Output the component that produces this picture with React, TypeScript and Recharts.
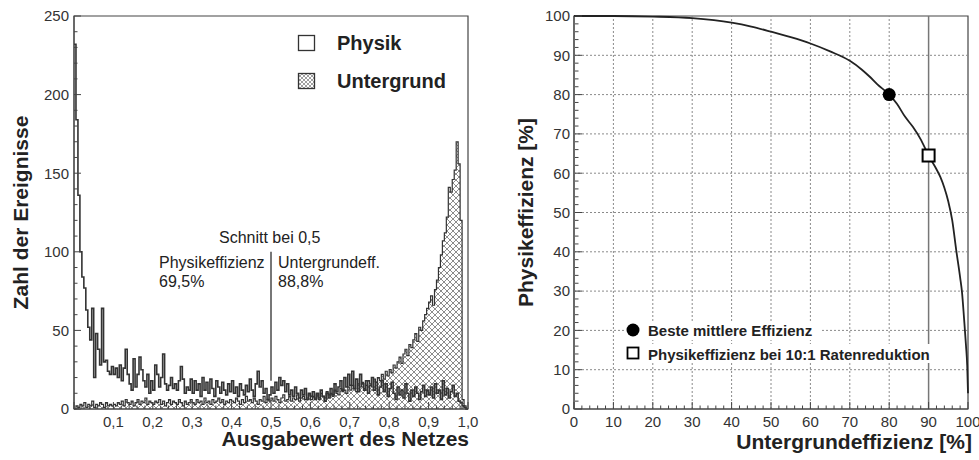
import React from 'react';
import {
  ComposedChart,
  Area,
  Line,
  Scatter,
  XAxis,
  YAxis,
  ReferenceLine,
  ReferenceArea,
} from 'recharts';

const FONT = '"Liberation Sans", Arial, Helvetica, sans-serif';
const INK = '#222';
const AXIS = '#444';

// Network output histograms, 200 bins of width 0.005 from 0 to 1
const BIN_WIDTH = 0.005;

const physikCounts = [
  232, 184, 136, 100, 84, 77, 63, 52, 44, 64, 20, 48, 38, 28, 64, 30, 31, 24, 22, 27,
  22, 26, 20, 28, 18, 26, 38, 22, 16, 12, 32, 14, 22, 33, 25, 18, 14, 22, 10, 18,
  12, 28, 22, 14, 20, 35, 16, 12, 15, 20, 13, 16, 12, 18, 27, 19, 10, 14, 12, 19,
  10, 18, 12, 16, 8, 20, 12, 17, 10, 19, 13, 8, 18, 14, 10, 17, 12, 9, 16, 11,
  18, 10, 14, 8, 16, 12, 9, 15, 11, 19, 12, 8, 16, 24, 14, 18, 10, 13, 6, 9,
  14, 10, 17, 12, 20, 15, 18, 11, 16, 9, 12, 8, 14, 10, 7, 12, 9, 13, 6, 10,
  8, 11, 6, 10, 7, 12, 8, 5, 10, 7, 13, 9, 16, 11, 14, 18, 12, 20, 14, 22,
  15, 24, 13, 19, 11, 22, 16, 12, 18, 10, 15, 20, 12, 17, 9, 14, 18, 11, 16, 8,
  13, 17, 10, 6, 14, 9, 12, 7, 16, 10, 5, 12, 8, 14, 10, 6, 11, 15, 8, 12,
  9, 14, 7, 16, 10, 12, 6, 18, 9, 13, 7, 11, 15, 8, 10, 5, 4, 2, 1, 0,
];

const untergrundCounts = [
  0, 2, 1, 3, 2, 4, 1, 3, 2, 5, 1, 3, 2, 4, 3, 1, 4, 2, 3, 2,
  3, 2, 4, 3, 5, 2, 6, 4, 3, 5, 2, 4, 6, 3, 5, 4, 7, 3, 5, 4,
  3, 5, 4, 6, 3, 5, 2, 4, 6, 3, 5, 4, 3, 6, 4, 2, 5, 3, 4, 6,
  4, 3, 6, 4, 5, 3, 7, 4, 5, 3, 6, 4, 5, 7, 4, 6, 3, 5, 4, 6,
  5, 4, 7, 5, 3, 6, 4, 8, 5, 6, 4, 7, 5, 3, 6, 5, 8, 4, 6, 5,
  7, 5, 8, 6, 4, 7, 9, 5, 6, 8, 5, 7, 6, 9, 5, 7, 8, 6, 7, 9,
  6, 8, 7, 9, 6, 10, 8, 7, 11, 9, 10, 8, 12, 10, 9, 13, 11, 12, 10, 14,
  12, 15, 13, 11, 16, 14, 17, 13, 15, 18, 16, 14, 19, 17, 20, 18, 22, 19, 24, 21,
  25, 23, 28, 26, 30, 33, 29, 35, 38, 34, 41, 39, 44, 48, 43, 52, 50, 56, 60, 64,
  68, 72, 66, 76, 82, 90, 98, 107, 112, 122, 141, 138, 146, 152, 170, 156, 120, 6, 2, 0,
];

const histXLabels = [0.1, 0.2, 0.3, 0.4, 0.5, 0.6, 0.7, 0.8, 0.9, 1.0];
const histYLabels = [0, 50, 100, 150, 200, 250];
const CUT_VALUE = 0.5;

// Efficiency curve: background efficiency [%] vs physics efficiency [%]
const untergrundEff = [
  0, 10, 20, 30, 40, 45, 50, 55, 60, 65, 70, 73, 75, 77, 80, 82, 84, 86, 88, 90,
  92, 93, 94, 95, 96, 97, 98, 98.5, 99, 99.5, 99.8, 100,
];
const physikEff = [
  100, 100, 99.85, 99.45, 98.3, 97.3, 96, 94.6, 93, 91, 88.6, 86.4, 84.6, 82.6, 80, 77.6,
  74.4, 71.8, 68.6, 64.5, 61, 59, 56.3, 52.8, 48, 40.5, 33.5, 29.5, 23, 16, 11, 4,
];
const bestPoint = [{ x: 80, y: 80 }];
const reductionPoint = [{ x: 90, y: 64.5 }];
const effLabels = [0, 10, 20, 30, 40, 50, 60, 70, 80, 90, 100];
const effGridX = [10, 20, 30, 40, 50, 60, 70, 80];
const effGridY = [10, 20, 30, 40, 50, 60, 70, 80, 90];
const REDUCTION_EFF = 90;

const steps = (from: number, to: number, step: number) =>
  Array.from({ length: Math.round((to - from) / step) + 1 }, (_, i) => +(from + i * step).toFixed(3));
const hasValue = (list: number[], v: number) => list.some((t) => Math.abs(t - v) < 1e-6);

const histData = physikCounts.map((p, i) => ({
  x: +(i * BIN_WIDTH).toFixed(3),
  physik: p,
  untergrund: untergrundCounts[i],
}));
histData.push({ x: 1, physik: 0, untergrund: 0 });

const effData = untergrundEff.map((x, i) => ({ x, y: physikEff[i] }));

const comma = (v: number) => v.toFixed(1).replace('.', ',');
const plain = (v: number) => String(v);

const Y_GAP = 5;
const X_GAP = 7;

// Axis ticks point into the plot; only the major positions carry a label
const makeYTick = (labels: number[], fmt: (v: number) => string) => (props: any) => {
  const { x, y, payload } = props;
  const v = payload.value;
  const axisX = x + Y_GAP;
  const major = hasValue(labels, v);
  return (
    <g>
      <line x1={axisX} x2={axisX + (major ? 7 : 3.5)} y1={y} y2={y} stroke={AXIS} strokeWidth={1} />
      {major && (
        <text x={x} y={y} dy="0.355em" textAnchor="end" fontSize={15} fill="#333" fontFamily={FONT}>
          {fmt(v)}
        </text>
      )}
    </g>
  );
};

const makeXTick = (labels: number[], fmt: (v: number) => string) => (props: any) => {
  const { x, y, payload } = props;
  const v = payload.value;
  const axisY = y - X_GAP;
  const major = hasValue(labels, v) || Math.abs(v) < 1e-6;
  return (
    <g>
      <line x1={x} x2={x} y1={axisY} y2={axisY - (major ? 7 : 3.5)} stroke={AXIS} strokeWidth={1} />
      {hasValue(labels, v) && (
        <text x={x} y={y} dy="0.71em" textAnchor="middle" fontSize={15} fill="#333" fontFamily={FONT}>
          {fmt(v)}
        </text>
      )}
    </g>
  );
};

const BestDot = (props: any) => <circle cx={props.cx} cy={props.cy} r={6.5} fill="#000" />;
const ReductionBox = (props: any) => (
  <rect x={props.cx - 6} y={props.cy - 6} width={12} height={12} fill="#fff" stroke="#000" strokeWidth={2} />
);

const HistogramChart = () => (
  <ComposedChart width={490} height={460} data={histData} margin={{ top: 16, right: 22, left: 14, bottom: 21 }}>
    <defs>
      <pattern id="crosshatch" width="6" height="6" patternUnits="userSpaceOnUse">
        <rect width="6" height="6" fill="#fff" />
        <path d="M0,0 L6,6 M6,0 L0,6" stroke="#666" strokeWidth="0.75" />
      </pattern>
    </defs>
    <XAxis
      type="number"
      dataKey="x"
      domain={[0, 1]}
      ticks={steps(0, 1, 0.02)}
      interval={0}
      tickLine={false}
      tickSize={0}
      tickMargin={X_GAP}
      height={30}
      axisLine={{ stroke: AXIS }}
      tick={makeXTick(histXLabels, comma)}
    />
    <YAxis
      domain={[0, 250]}
      ticks={steps(0, 250, 10)}
      interval={0}
      width={60}
      tickLine={false}
      tickSize={0}
      tickMargin={Y_GAP}
      axisLine={{ stroke: AXIS }}
      tick={makeYTick(histYLabels, plain)}
    />
    <Area
      type="stepAfter"
      dataKey="untergrund"
      stroke="#333"
      strokeWidth={1.2}
      fill="url(#crosshatch)"
      fillOpacity={1}
      dot={false}
      activeDot={false}
      isAnimationActive={false}
    />
    <Line
      type="stepAfter"
      dataKey="physik"
      stroke="#333"
      strokeWidth={1.6}
      dot={false}
      activeDot={false}
      isAnimationActive={false}
    />
    <ReferenceLine
      segment={[{ x: CUT_VALUE, y: 18 }, { x: CUT_VALUE, y: 100 }]}
      stroke="#777"
      strokeWidth={2}
    />
    <ReferenceArea x1={0} x2={1} y1={0} y2={250} fill="none" stroke={AXIS} strokeWidth={1.2} />
  </ComposedChart>
);

const EfficiencyChart = () => (
  <ComposedChart width={489} height={460} data={effData} margin={{ top: 16, right: 11, left: 24, bottom: 21 }}>
    {effGridY.map((v) => (
      <ReferenceLine key={`gy${v}`} y={v} stroke="#8a8a8a" strokeDasharray="2 2" strokeWidth={1} />
    ))}
    {effGridX.map((v) => (
      <ReferenceLine key={`gx${v}`} x={v} stroke="#8a8a8a" strokeDasharray="2 2" strokeWidth={1} />
    ))}
    <ReferenceLine x={REDUCTION_EFF} stroke="#777" strokeWidth={1.5} />
    <XAxis
      type="number"
      dataKey="x"
      domain={[0, 100]}
      ticks={steps(0, 100, 2)}
      interval={0}
      tickLine={false}
      tickSize={0}
      tickMargin={X_GAP}
      height={30}
      axisLine={{ stroke: AXIS }}
      tick={makeXTick(effLabels, plain)}
    />
    <YAxis
      domain={[0, 100]}
      ticks={steps(0, 100, 2)}
      interval={0}
      width={60}
      tickLine={false}
      tickSize={0}
      tickMargin={Y_GAP - 1}
      axisLine={{ stroke: AXIS }}
      tick={makeYTick(effLabels, plain)}
    />
    <Line
      type="monotone"
      dataKey="y"
      stroke="#222"
      strokeWidth={1.8}
      dot={false}
      activeDot={false}
      isAnimationActive={false}
    />
    <Scatter data={bestPoint} dataKey="y" shape={BestDot} isAnimationActive={false} />
    <Scatter data={reductionPoint} dataKey="y" shape={ReductionBox} isAnimationActive={false} />
    <ReferenceArea x1={0} x2={100} y1={0} y2={100} fill="none" stroke={AXIS} strokeWidth={1.2} />
  </ComposedChart>
);

// Titles, annotations and legends drawn on top of both panels
const Overlay = () => (
  <svg width={979} height={460} style={{ position: 'absolute', left: 0, top: 0, pointerEvents: 'none' }}>
    <defs>
      <pattern id="legendHatch" width="4" height="4" patternUnits="userSpaceOnUse">
        <rect width="4" height="4" fill="#fff" />
        <path d="M0,0 L4,4 M4,0 L0,4" stroke="#777" strokeWidth="0.7" />
      </pattern>
    </defs>
    <g fontFamily={FONT} fill={INK}>
      {/* left panel */}
      <text x={28} y={212.5} transform="rotate(-90 28 212.5)" textAnchor="middle" fontSize={21} fontWeight="bold">
        Zahl der Ereignisse
      </text>
      <text x={469} y={446} textAnchor="end" fontSize={21} fontWeight="bold">
        Ausgabewert des Netzes
      </text>
      <rect x={298.5} y={35.5} width={16} height={15} fill="#fff" stroke="#333" strokeWidth={1.3} />
      <text x={337} y={50} fontSize={20} fontWeight="bold">Physik</text>
      <rect x={298.5} y={73.5} width={16} height={15} fill="url(#legendHatch)" stroke="#333" strokeWidth={1.3} />
      <text x={337} y={88} fontSize={20} fontWeight="bold">Untergrund</text>
      <text x={219} y={243} fontSize={16}>Schnitt bei 0,5</text>
      <text x={159} y={268} fontSize={16}>Physikeffizienz</text>
      <text x={159} y={287} fontSize={16}>69,5%</text>
      <text x={278} y={268} fontSize={16}>Untergrundeff.</text>
      <text x={278} y={287} fontSize={16}>88,8%</text>

      {/* right panel */}
      <text x={533} y={212.5} transform="rotate(-90 533 212.5)" textAnchor="middle" fontSize={21} fontWeight="bold">
        Physikeffizienz [%]
      </text>
      <text x={972} y={449} textAnchor="end" fontSize={21} fontWeight="bold">
        Untergrundeffizienz [%]
      </text>
      <rect x={624} y={321} width={198} height={19} fill="#fff" />
      <rect x={624} y={344} width={318} height={19} fill="#fff" />
      <circle cx={633} cy={330} r={6.5} fill="#000" />
      <text x={648} y={336} fontSize={15} fontWeight="bold">Beste mittlere Effizienz</text>
      <rect x={627.5} y={347.5} width={11} height={11} fill="#fff" stroke="#000" strokeWidth={1.8} />
      <text x={648} y={360} fontSize={15} fontWeight="bold">Physikeffizienz bei 10:1 Ratenreduktion</text>
    </g>
  </svg>
);

export default function App() {
  return (
    <div style={{ position: 'absolute', left: 0, top: 0, width: 979, height: 460, background: '#fff', fontFamily: FONT }}>
      <div style={{ position: 'absolute', left: 0, top: 0 }}>
        <HistogramChart />
      </div>
      <div style={{ position: 'absolute', left: 490, top: 0 }}>
        <EfficiencyChart />
      </div>
      <Overlay />
    </div>
  );
}
